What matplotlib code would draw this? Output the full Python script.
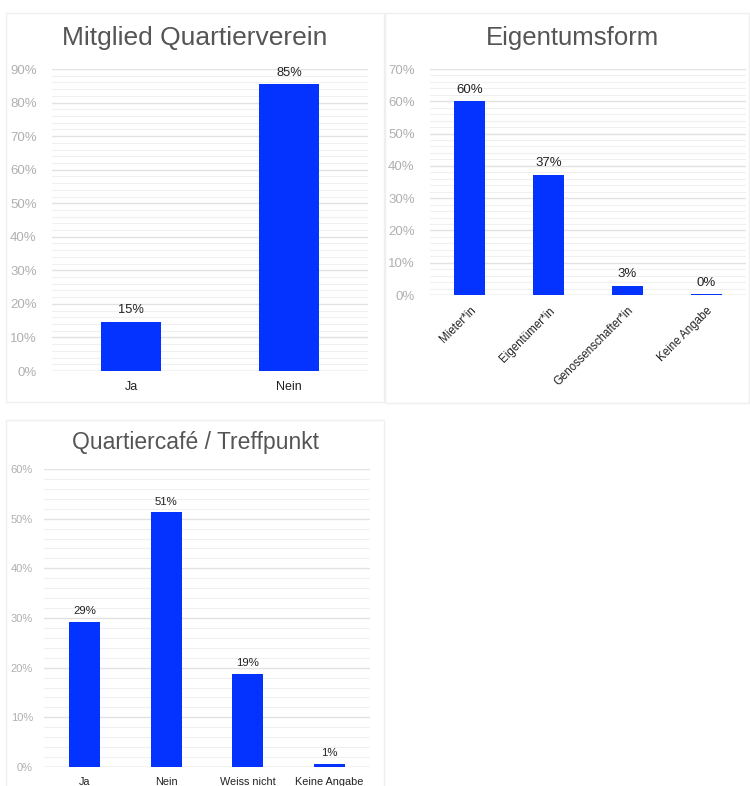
import matplotlib
matplotlib.use('Agg')
import matplotlib.pyplot as plt
from matplotlib.patches import Rectangle
from matplotlib.ticker import MultipleLocator, FuncFormatter

plt.rcParams['font.family'] = ['Liberation Sans', 'DejaVu Sans']

# Data
verein_cats = ['Ja', 'Nein']
verein_vals = [14.6, 85.4]

eigentum_cats = ['Mieter*in', 'Eigentümer*in', 'Genossenschafter*in', 'Keine Angabe']
eigentum_vals = [60.0, 37.2, 2.8, 0.2]

cafe_cats = ['Ja', 'Nein', 'Weiss nicht', 'Keine Angabe']
cafe_vals = [29.2, 51.3, 18.8, 0.6]

BLUE = '#0433ff'
W, H = 750, 786

fig = plt.figure(figsize=(7.5, 7.86), dpi=100)


def px_axes(x0, y0, x1, y1):
    # pixel box (top-left origin) -> figure axes
    return fig.add_axes([x0 / W, 1 - y1 / H, (x1 - x0) / W, (y1 - y0) / H])


def panel(x0, y0, x1, y1):
    fig.patches.append(Rectangle((x0 / W, 1 - y1 / H), (x1 - x0) / W, (y1 - y0) / H,
                                 transform=fig.transFigure, fill=False,
                                 edgecolor='#efefef', linewidth=1.0))


def bar_chart(ax, cats, vals, ymax, tick_fs, lab_fs, val_fs, ypad, rotate=False):
    x = range(len(cats))
    ax.bar(x, vals, width=0.38, color=BLUE, zorder=3)
    for xi, v in zip(x, vals):
        ax.annotate(f'{v:.0f}%', (xi, v), xytext=(0, 4), textcoords='offset points',
                    ha='center', va='bottom', fontsize=val_fs, color='#222222')
    ax.set_xlim(-0.5, len(cats) - 0.5)
    ax.set_ylim(0, ymax)
    ax.yaxis.set_major_locator(MultipleLocator(10))
    ax.yaxis.set_minor_locator(MultipleLocator(2))
    ax.yaxis.set_major_formatter(FuncFormatter(lambda v, p: f'{v:.0f}%'))
    ax.grid(axis='y', which='major', color='#e2e2e2', linewidth=1.0, zorder=0)
    ax.grid(axis='y', which='minor', color='#f0f0f0', linewidth=0.8, zorder=0)
    ax.set_xticks(list(x))
    if rotate:
        ax.set_xticklabels(cats, rotation=45, ha='right', rotation_mode='anchor',
                           fontsize=lab_fs, color='#222222')
    else:
        ax.set_xticklabels(cats, fontsize=lab_fs, color='#222222')
    ax.tick_params(axis='x', length=0, pad=7)
    ax.tick_params(axis='y', which='both', length=0, pad=ypad, labelsize=tick_fs,
                   labelcolor='#b0b0b0')
    for s in ax.spines.values():
        s.set_visible(False)
    ax.axhline(0, color='#dcdcdc', linewidth=1.0, zorder=2)


# Panel 1: Mitglied Quartierverein
panel(6, 13, 384, 402)
ax1 = px_axes(52, 69, 368, 371)
bar_chart(ax1, verein_cats, verein_vals, 90, 9.5, 9, 9.3, 11)
fig.text(195 / W, 1 - 38 / H, 'Mitglied Quartierverein', ha='center', va='center',
         fontsize=19, color='#555555')

# Panel 2: Eigentumsform
panel(385, 13, 749, 403)
ax2 = px_axes(430, 69, 746, 295)
bar_chart(ax2, eigentum_cats, eigentum_vals, 70, 9.5, 8.3, 9.5, 11, rotate=True)
fig.text(572 / W, 1 - 38 / H, 'Eigentumsform', ha='center', va='center',
         fontsize=18.5, color='#555555')

# Panel 3: Quartiercafe / Treffpunkt
panel(6, 420, 384, 790)
ax3 = px_axes(44, 469, 370, 767)
bar_chart(ax3, cafe_cats, cafe_vals, 60, 8, 7.8, 8.2, 8)
fig.text(195 / W, 1 - 442 / H, 'Quartiercafé / Treffpunkt', ha='center', va='center',
         fontsize=16.5, color='#555555')

fig.savefig('out.png', dpi=100, facecolor='white')
